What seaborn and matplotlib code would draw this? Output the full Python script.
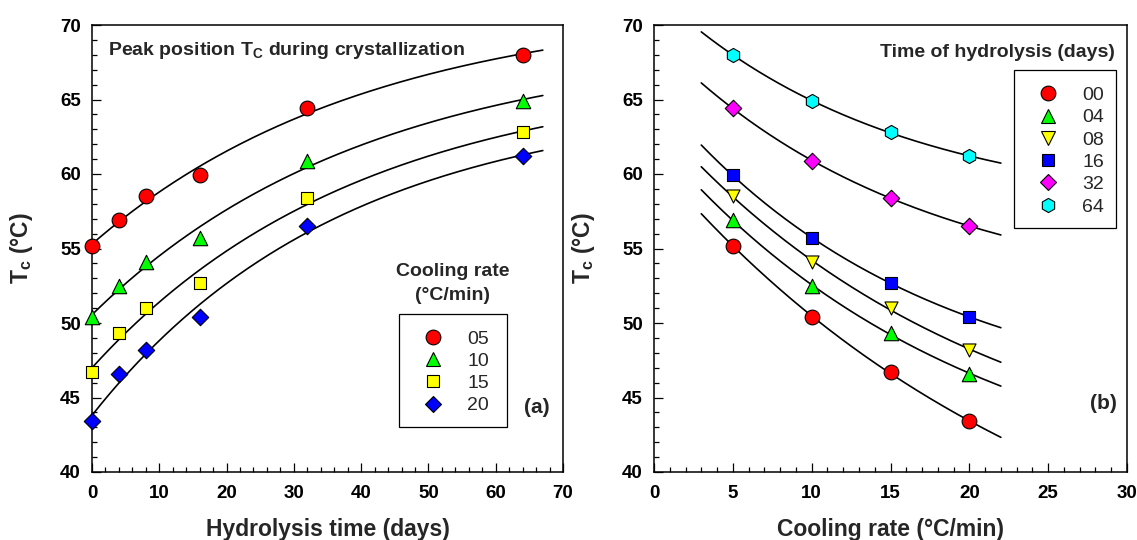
import numpy as np
import matplotlib
matplotlib.use("Agg")
import matplotlib.pyplot as plt
from matplotlib.lines import Line2D
from matplotlib.patches import Rectangle
from matplotlib.ticker import MultipleLocator
import seaborn as sns

# Crystallization peak temperature Tc (°C)
hydrolysis_days = [0, 4, 8, 16, 32, 64]
cooling_rates = [5, 10, 15, 20]
tc_rate05 = [55.2, 56.9, 58.5, 59.9, 64.4, 68.0]
tc_rate10 = [50.4, 52.5, 54.1, 55.7, 60.9, 64.9]
tc_rate15 = [46.7, 49.3, 51.0, 52.7, 58.4, 62.8]
tc_rate20 = [43.4, 46.6, 48.2, 50.4, 56.5, 61.2]
rate_labels = ["05", "10", "15", "20"]
day_labels = ["00", "04", "08", "16", "32", "64"]

sns.set_style("ticks")
plt.rcParams["font.family"] = ["Liberation Sans", "DejaVu Sans"]
plt.rcParams["mathtext.fontset"] = "custom"
plt.rcParams["mathtext.rm"] = "Liberation Sans:bold"
plt.rcParams["mathtext.it"] = "Liberation Sans:bold"
plt.rcParams["mathtext.bf"] = "Liberation Sans:bold"
plt.rcParams["mathtext.default"] = "rm"


def exp_fit(x, y, taus):
    """Least-squares fit of y = a + b*exp(-x/tau), tau chosen on a grid."""
    x = np.asarray(x, float)
    y = np.asarray(y, float)
    best = None
    for tau in taus:
        A = np.column_stack([np.ones_like(x), np.exp(-x / tau)])
        coef, *_ = np.linalg.lstsq(A, y, rcond=None)
        err = np.sum((A @ coef - y) ** 2)
        if best is None or err < best[0]:
            best = (err, tau, coef)
    _, tau, (a, b) = best
    return lambda t: a + b * np.exp(-np.asarray(t, float) / tau)


tc_by_rate = [tc_rate05, tc_rate10, tc_rate15, tc_rate20]
tc_by_day = [list(col) for col in zip(*tc_by_rate)]

rate_style = [("o", "#ff0000", 10.6), ("^", "#00ff00", 10.4),
              ("s", "#ffff00", 8.6), ("D", "#0000ff", 8.4)]
day_style = [("o", "#ff0000", 10.6), ("^", "#00ff00", 10.4),
             ("v", "#ffff00", 9.4), ("s", "#0000ff", 8.6),
             ("D", "#ff00ff", 8.4), ("h", "#00ffff", 10.2)]

W, H = 1137, 540
fig = plt.figure(figsize=(W / 100, H / 100), dpi=100)
ax1 = fig.add_axes([92 / W, 1 - 472 / H, 471 / W, 447 / H])
ax2 = fig.add_axes([654 / W, 1 - 472 / H, 473 / W, 447 / H])

bold = dict(fontweight="bold")

# (a) Tc versus hydrolysis time
xs = np.linspace(0, 67, 300)
for vals, (m, c, ms) in zip(tc_by_rate, rate_style):
    f = exp_fit(hydrolysis_days, vals, np.linspace(5, 200, 800))
    sns.lineplot(x=xs, y=f(xs), color="black", linewidth=1.2, ax=ax1, zorder=2)
    sns.scatterplot(x=hydrolysis_days, y=vals, marker=m, s=ms ** 2, color=c,
                    edgecolor="black", linewidth=0.8, ax=ax1, zorder=3,
                    clip_on=False)

# (b) Tc versus cooling rate
xs = np.linspace(3, 22, 300)
for vals, (m, c, ms) in zip(tc_by_day, day_style):
    f = exp_fit(cooling_rates, vals, np.linspace(2, 200, 800))
    sns.lineplot(x=xs, y=f(xs), color="black", linewidth=1.2, ax=ax2, zorder=2)
    sns.scatterplot(x=cooling_rates, y=vals, marker=m, s=ms ** 2, color=c,
                    edgecolor="black", linewidth=0.8, ax=ax2, zorder=3)

for ax, xmax, xmaj, xmin_ in ((ax1, 70, 10, 2), (ax2, 30, 5, 1)):
    ax.set_xlim(0, xmax)
    ax.set_ylim(40, 70)
    ax.xaxis.set_major_locator(MultipleLocator(xmaj))
    ax.xaxis.set_minor_locator(MultipleLocator(xmin_))
    ax.yaxis.set_major_locator(MultipleLocator(5))
    ax.yaxis.set_minor_locator(MultipleLocator(1))
    ax.tick_params(which="both", direction="in", top=False, right=False,
                   width=0.9, colors="black")
    ax.tick_params(which="major", length=6.8, labelsize=13.5)
    ax.tick_params(which="minor", length=3.6)
    ax.tick_params(axis="x", pad=9)
    ax.tick_params(axis="y", pad=8)
    for lab in ax.get_xticklabels() + ax.get_yticklabels():
        lab.set_fontweight("bold")
    for sp in ax.spines.values():
        sp.set_visible(True)
        sp.set_linewidth(1.1)
        sp.set_color("black")
    ax.set_ylabel(r"T$_c$ (°C)", fontsize=16.5, **bold)
    ax.yaxis.set_label_coords(-0.121, 0.5)

ax1.set_xlabel("Hydrolysis time (days)", fontsize=16.5, **bold)
ax2.set_xlabel("Cooling rate (°C/min)", fontsize=16.5, **bold)
for ax in (ax1, ax2):
    ax.xaxis.set_label_coords(0.5, -0.103)

ax1.text(2.4, 68.0, r"Peak position T$_C$ during crystallization",
         fontsize=14, va="baseline", ha="left", **bold)
ax1.text(53.65, 53.15, "Cooling rate", fontsize=14, ha="center",
         va="baseline", **bold)
ax1.text(53.65, 51.54, "(°C/min)", fontsize=14, ha="center",
         va="baseline", **bold)
ax1.text(66.1, 44.3, "(a)", fontsize=15, ha="center", va="center", **bold)
ax2.text(29.23, 67.85, "Time of hydrolysis (days)", fontsize=14,
         ha="right", va="baseline", **bold)
ax2.text(28.5, 44.6, "(b)", fontsize=15, ha="center", va="center", **bold)


def add_legend(ax, styles, labels, anchor, box):
    handles = [Line2D([], [], ls="none", marker=m, markersize=ms,
                      markerfacecolor=c, markeredgecolor="black",
                      markeredgewidth=0.8) for m, c, ms in styles]
    leg = ax.legend(handles, labels, loc="upper left", bbox_to_anchor=anchor,
                    bbox_transform=fig.transFigure, frameon=False,
                    borderaxespad=0, borderpad=0, handlelength=1.68,
                    handletextpad=0.91, labelspacing=0.24,
                    prop={"size": 14})
    x0, y0, x1, y1 = box
    fig.patches.append(Rectangle((x0 / W, 1 - y1 / H), (x1 - x0) / W,
                                 (y1 - y0) / H, transform=fig.transFigure,
                                 fill=False, edgecolor="black", linewidth=0.9))
    return leg


add_legend(ax1, rate_style, rate_labels, (416.7 / W, 1 - 330 / H),
           (399, 314, 507, 427))
add_legend(ax2, day_style, day_labels, (1031.7 / W, 1 - 86.5 / H),
           (1014, 70, 1116, 228))

fig.savefig("out.png", dpi=100)
